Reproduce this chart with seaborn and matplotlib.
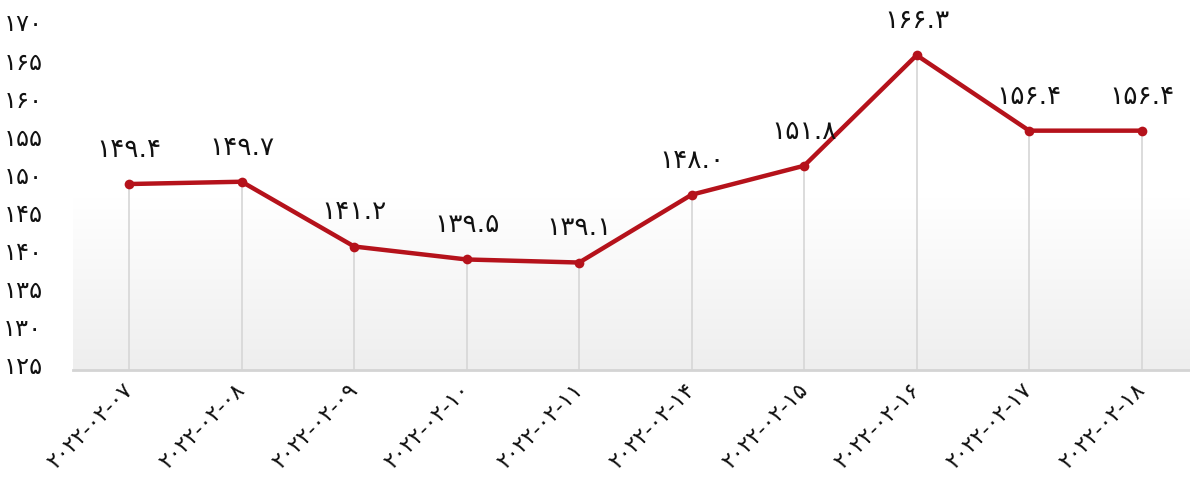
import matplotlib
matplotlib.use("Agg")
import matplotlib.pyplot as plt
import matplotlib.transforms as mtransforms
import numpy as np
import pandas as pd
import seaborn as sns

dates = ["2022-02-07", "2022-02-08", "2022-02-09", "2022-02-10", "2022-02-11",
         "2022-02-14", "2022-02-15", "2022-02-16", "2022-02-17", "2022-02-18"]
values = [149.4, 149.7, 141.2, 139.5, 139.1, 148.0, 151.8, 166.3, 156.4, 156.4]
y_ticks = [125, 130, 135, 140, 145, 150, 155, 160, 165, 170]

FA = str.maketrans("0123456789", "۰۱۲۳۴۵۶۷۸۹")
def fa(s):
    return str(s).translate(FA)

sns.set_theme(style="white")
plt.rcParams["font.family"] = ["DejaVu Sans"]

df = pd.DataFrame({"date": dates, "value": values, "pos": np.arange(len(dates))})

fig = plt.figure(figsize=(11.9, 4.8), dpi=100)
ax = fig.add_axes([73/1190, 110/480, 1 - 73/1190, (370-27)/480])

ax.set_xlim(-0.5, 9.43)
ax.set_ylim(125, 170)

# background gradient
grad = np.linspace(0, 1, 256).reshape(-1, 1)
cmap = matplotlib.colors.LinearSegmentedColormap.from_list("g", ["#ffffff", "#ffffff", "#eeeeee"])
ax.imshow(grad, aspect="auto", cmap=cmap, extent=[-0.5, 9.43, 125, 170], origin="upper", zorder=0)

ax.vlines(df["pos"], 125, df["value"], color="#d6d6d6", lw=1.2, zorder=1)

sns.lineplot(data=df, x="pos", y="value", ax=ax, color="#b5121b", lw=3.2,
             marker="o", markersize=7, markeredgewidth=0, zorder=3)

for p, v in zip(df["pos"], df["value"]):
    ax.annotate(fa(f"{v:.1f}"), (p, v), xytext=(0, 24.5), textcoords="offset points",
                ha="center", va="center", fontsize=19, color="#111111")

for s in ["top", "right", "left"]:
    ax.spines[s].set_visible(False)
ax.spines["bottom"].set_color("#d4d4d4")
ax.spines["bottom"].set_linewidth(2)

ax.set_yticks(y_ticks)
ax.set_yticklabels([fa(t) for t in y_ticks], fontsize=17.5, color="#111111")
ax.set_xticks(df["pos"])
ax.set_xticklabels([fa(d) for d in dates], rotation=45, ha="right", rotation_mode="anchor",
                   fontsize=16, color="#111111")
ax.tick_params(axis="y", length=0, pad=22)
ax.tick_params(axis="x", length=0, pad=6)
off = mtransforms.ScaledTranslation(0, 5/100, fig.dpi_scale_trans)
for lab in ax.get_yticklabels():
    lab.set_transform(lab.get_transform() + off)
off2 = mtransforms.ScaledTranslation(-7/100, -2/100, fig.dpi_scale_trans)
for lab in ax.get_xticklabels():
    lab.set_transform(lab.get_transform() + off2)
ax.set_xlabel("")
ax.set_ylabel("")
ax.grid(False)

fig.savefig("out.png", dpi=100)
